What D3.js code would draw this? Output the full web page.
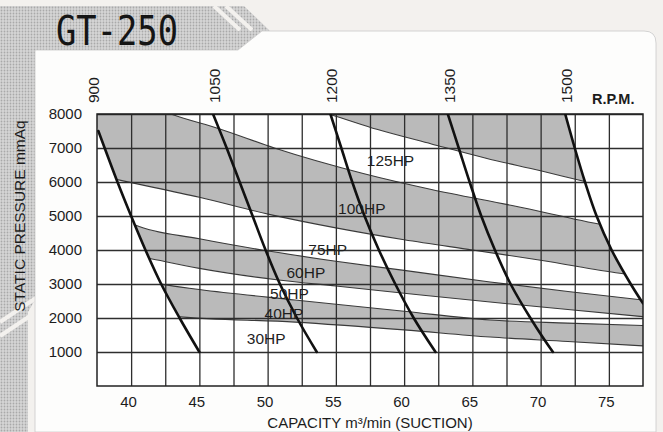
<!DOCTYPE html>
<html><head><meta charset="utf-8">
<script src="https://cdn.jsdelivr.net/npm/d3@7"></script>
<style>html,body{margin:0;padding:0;background:#f3f1ee;} svg{display:block;}</style>
</head><body>
<svg id="c" width="663" height="432"></svg>
<script>
// ---------- data ----------
const chartTitle = "GT-250";
const xTickValues = [40, 45, 50, 55, 60, 65, 70, 75];
const xGridValues = [40, 42.5, 45, 47.5, 50, 52.5, 55, 57.5, 60, 62.5, 65, 67.5, 70, 72.5, 75];
const yTickValues = [1000, 2000, 3000, 4000, 5000, 6000, 7000, 8000];
const xTitle = "CAPACITY m³/min (SUCTION)";
const yTitle = "STATIC PRESSURE mmAq";
const rpmUnit = "R.P.M.";

// RPM curves: [capacity, pressure]
const rpmNames = ["900", "1050", "1200", "1350", "1500"];
const rpm900  = [[37.6,7500],[39.0,6000],[40.0,5000],[41.05,4000],[42.2,3000],[43.55,2000],[45.0,1000]];
const rpm1050 = [[46.0,8000],[47.0,7000],[47.95,6000],[48.9,5000],[49.85,4000],[50.9,3000],[52.15,2000],[53.6,1000]];
const rpm1200 = [[54.6,8000],[55.4,7000],[56.2,6000],[57.1,5000],[58.15,4000],[59.35,3000],[60.7,2000],[62.3,1000]];
const rpm1350 = [[63.2,8000],[64.0,7000],[64.8,6000],[65.65,5000],[66.65,4000],[67.8,3000],[69.25,2000],[70.9,1000]];
const rpm1500 = [[71.8,8000],[72.5,7000],[73.25,6000],[74.1,5000],[75.2,4000],[76.6,3000],[77.5,2430]];

// shaded bands: upper / lower boundaries
const band125Upper = [[52,8700],[78,8700]];
const band125Lower = [[53.5,8100],[54.6,7980],[58,7550],[62,7120],[66,6700],[70,6330],[73.4,6000],[76,5760]];
const band100Upper = [[36,9300],[42.9,8000],[46.5,7560],[50.5,7000],[57,6250],[62,5780],[68,5300],[74.6,4735],[77.5,4520]];
const band100Lower = [[38,6160],[39,6070],[45,5550],[50.2,5040],[55,4650],[60,4300],[65,4000],[70,3700],[75.8,3315],[77.5,3220]];
const band60Upper  = [[38.5,5100],[40.3,4735],[45,4330],[49.6,4000],[55,3670],[60,3400],[66.3,3059],[72,2780],[77.5,2530]];
const band60Lower  = [[39.5,3900],[41.3,3756],[45,3460],[50.8,3118],[55,2940],[60,2730],[66.3,2470],[72,2250],[77.5,2040]];
const band40Upper  = [[40.5,3150],[42.3,2990],[45,2840],[52,2530],[60,2200],[66.3,1940],[72,1850],[77.5,1780]];
const band40Lower  = [[42,2150],[43.4,2040],[52,1880],[60,1650],[66.3,1440],[72,1310],[77.5,1180]];

// HP labels and their anchors [capacity, pressure]
const hpNames = ["125HP", "100HP", "75HP", "60HP", "50HP", "40HP", "30HP"];
const hpCap   = [59.0, 56.9, 54.4, 52.8, 51.6, 51.2, 49.9];
const hpPres  = [6460, 5060, 3853, 3176, 2550, 1962, 1226];

// ---------- drawing ----------
const svg = d3.select("#c");
const X0 = 97, X1 = 643, Y0 = 114, Y1 = 386;
const x = d3.scaleLinear().domain([37.5, 77.5]).range([X0, X1]);
const y = d3.scaleLinear().domain([0, 8000]).range([Y1, Y0]);
const FONT = "Liberation Sans, Arial, sans-serif";

const defs = svg.append("defs");
const pat = defs.append("pattern").attr("id","dots").attr("width",3).attr("height",3).attr("patternUnits","userSpaceOnUse");
pat.append("rect").attr("width",3).attr("height",3).attr("fill","#d6d6d6");
pat.append("circle").attr("cx",1.5).attr("cy",1.5).attr("r",0.9).attr("fill","#a9a9a9");

// background
svg.append("rect").attr("width",663).attr("height",432).attr("fill","#f3f1ee");
svg.append("path").attr("fill","url(#dots)")
  .attr("d","M0,6 H244 L270,31 H262 L238,50 H35 V300 L28,312 V432 H0 Z");
[[214,6,240,30],[226,6,252,30],[0,322,36,298],[0,336,30,316]].forEach(s=>{
  svg.append("line").attr("x1",s[0]).attr("y1",s[1]).attr("x2",s[2]).attr("y2",s[3])
    .attr("stroke","#f3f1ee").attr("stroke-width",4);
});
// card
svg.append("path").attr("fill","#fdfdfc").attr("stroke","#c9c9c9").attr("stroke-width",0.8)
  .attr("d","M35,432 V50 H238 L262,31 H644 Q656,31 656,43 V432 Z");

// title
svg.append("text").text(chartTitle)
  .attr("x",56).attr("y",45)
  .attr("font-family","DejaVu Sans Mono").attr("font-size",40)
  .attr("textLength",122).attr("lengthAdjust","spacingAndGlyphs")
  .attr("fill","#151515");

// plot background
svg.append("rect").attr("x",X0).attr("y",Y0).attr("width",X1-X0).attr("height",Y1-Y0).attr("fill","#ffffff");

defs.append("clipPath").attr("id","plotClip").append("rect")
  .attr("x",X0).attr("y",Y0).attr("width",X1-X0).attr("height",Y1-Y0);

function vAt(a, b, p){ return a[0] + (p - a[1]) * (b[0] - a[0]) / (b[1] - a[1]); }
function extend(c){
  const n = c.length;
  const top = [vAt(c[0], c[1], 9800), 9800];
  const bot = [vAt(c[n-2], c[n-1], -800), -800];
  return [top].concat(c, [bot]);
}
function regionClip(id, left, right){
  const pts = extend(left).concat(extend(right).reverse()).map(d => [x(d[0]), y(d[1])]);
  defs.append("clipPath").attr("id", id).append("path")
    .attr("d", "M" + pts.map(p => p.join(",")).join("L") + "Z");
}
regionClip("r900_1500", rpm900, rpm1500);
regionClip("r1200_1500", rpm1200, rpm1500);

const rpmLine = d3.line().x(d => x(d[0])).y(d => y(d[1])).curve(d3.curveCatmullRom.alpha(0.5));
const bandLine = d3.line().x(d => x(d[0])).y(d => y(d[1])).curve(d3.curveMonotoneX);

const plotG = svg.append("g").attr("clip-path","url(#plotClip)");
const bands = [
  {u: band125Upper, l: band125Lower, clip: "r1200_1500"},
  {u: band100Upper, l: band100Lower, clip: "r900_1500"},
  {u: band60Upper,  l: band60Lower,  clip: "r900_1500"},
  {u: band40Upper,  l: band40Lower,  clip: "r900_1500"}
];
bands.forEach(b => {
  const g = plotG.append("g").attr("clip-path", "url(#" + b.clip + ")");
  const top = bandLine(b.u);
  const bot = bandLine(b.l);
  const lowerRev = b.l.slice().reverse().map(d => [x(d[0]), y(d[1])]);
  const poly = top + lowerRev.map(p => "L" + p[0] + "," + p[1]).join("") + "Z";
  g.append("path").attr("d", poly).attr("fill","#bababa");
  g.append("path").attr("d", top).attr("fill","none").attr("stroke","#3a3a3a").attr("stroke-width",1.1);
  g.append("path").attr("d", bot).attr("fill","none").attr("stroke","#3a3a3a").attr("stroke-width",1.1);
});

// grid + labels via axes
const yAxis = d3.axisLeft(y).tickValues(yTickValues).tickSize(-(X1-X0)).tickPadding(15).tickFormat(d3.format("d"));
const yg = svg.append("g").attr("transform","translate(" + X0 + ",0)").call(yAxis);
yg.select(".domain").remove();
yg.selectAll(".tick line").attr("stroke","#2e2e2e").attr("stroke-width",1.3);
yg.selectAll(".tick text").attr("font-family",FONT).attr("font-size",15).attr("fill","#1c1c1c");

const xGrid = d3.axisBottom(x).tickValues(xGridValues).tickSize(-(Y1-Y0)).tickFormat("");
const xgg = svg.append("g").attr("transform","translate(0," + Y1 + ")").call(xGrid);
xgg.select(".domain").remove();
xgg.selectAll(".tick line").attr("stroke","#2e2e2e").attr("stroke-width",1.3);

const xAxis = d3.axisBottom(x).tickValues(xTickValues).tickSize(0).tickPadding(10).tickFormat(d3.format("d"));
const xg = svg.append("g").attr("transform","translate(0," + Y1 + ")").call(xAxis);
xg.select(".domain").remove();
xg.selectAll(".tick text").attr("dx",-3).attr("font-family",FONT).attr("font-size",15).attr("fill","#1c1c1c");

// frame
svg.append("rect").attr("x",X0).attr("y",Y0).attr("width",X1-X0).attr("height",Y1-Y0)
  .attr("fill","none").attr("stroke","#222").attr("stroke-width",1.5);

// RPM curves
const rpmCurves = [rpm900, rpm1050, rpm1200, rpm1350, rpm1500];
const curveG = svg.append("g").attr("clip-path","url(#plotClip)");
rpmCurves.forEach(c => {
  curveG.append("path").attr("d", rpmLine(c)).attr("fill","none")
    .attr("stroke","#111").attr("stroke-width",2.6).attr("stroke-linecap","round");
});

// RPM labels
rpmCurves.forEach((c, i) => {
  const topV = vAt(c[0], c[1], 8000);
  svg.append("text").text(rpmNames[i])
    .attr("transform","translate(" + (x(topV) + 7) + ",103) rotate(-90)")
    .attr("font-family",FONT).attr("font-size",15.5).attr("fill","#1c1c1c");
});
svg.append("text").text(rpmUnit).attr("x",592).attr("y",104)
  .attr("font-family",FONT).attr("font-size",14.5)
  .attr("font-weight","bold").attr("fill","#1c1c1c");

// HP labels
hpNames.forEach((n, i) => {
  svg.append("text").text(n).attr("x", x(hpCap[i])).attr("y", y(hpPres[i]))
    .attr("text-anchor","middle")
    .attr("font-family",FONT).attr("font-size",15.5).attr("fill","#1e1e1e");
});

// axis titles
svg.append("text").attr("x",(X0+X1)/2).attr("y",428).attr("text-anchor","middle")
  .attr("font-family",FONT).attr("font-size",15).attr("fill","#1c1c1c")
  .text(xTitle);
svg.append("text").text(yTitle)
  .attr("transform","translate(25,216) rotate(-90)").attr("text-anchor","middle")
  .attr("font-family",FONT).attr("font-size",15.5).attr("fill","#1c1c1c");
</script>
</body></html>
